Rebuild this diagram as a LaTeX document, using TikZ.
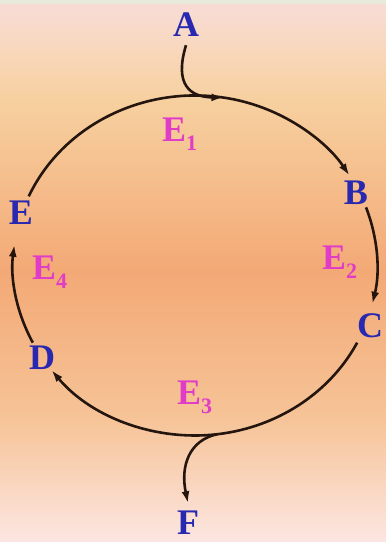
\documentclass[tikz,border=0pt]{standalone}
\usepackage{fontspec}
\setmainfont{Liberation Serif}
\usetikzlibrary{arrows.meta,calc}
\definecolor{lblue}{HTML}{2828B0}
\definecolor{lmag}{HTML}{E03CC8}
\definecolor{lline}{HTML}{24160F}
\definecolor{bgTop}{HTML}{F8DCD3}
\definecolor{bgA}{HTML}{F8D6B6}
\definecolor{bgB}{HTML}{F7D0A0}
\definecolor{bgC}{HTML}{F3A976}
\definecolor{bgD}{HTML}{F6C498}
\definecolor{bgBot}{HTML}{FCE6E2}
\definecolor{strip}{HTML}{E8EADB}
\pgfdeclareverticalshading{bgshade}{100bp}{color(0bp)=(bgBot); color(25bp)=(bgBot); color(36.25bp)=(bgD); color(50bp)=(bgC); color(65.8bp)=(bgB); color(69.5bp)=(bgA); color(74bp)=(bgTop); color(75bp)=(bgTop); color(100bp)=(bgTop)}
\tikzset{
  letter/.style={inner sep=0pt, anchor=base, text=lblue, font=\fontsize{36}{36}\selectfont\bfseries},
  elabel/.style={inner sep=0pt, anchor=base west, text=lmag, font=\fontsize{36}{36}\selectfont\bfseries},
  flow/.style={draw=lline, line width=2.6pt, -{Latex[length=12pt,width=8pt]}},
}
\newcommand{\esub}[1]{E\raisebox{-9pt}{\fontsize{22}{22}\selectfont #1}}
\begin{document}
\begin{tikzpicture}[x=1pt,y=1pt]
\useasboundingbox (0,0) rectangle (386,542);
\shade[shading=bgshade] (0,0) rectangle (386,542);
\fill[strip] (0,538) rectangle (386,542);
% nodes
\node[letter] (A) at (186,505) {A};
\node[letter] (B) at (356,337) {B};
\node[letter] (C) at (370,204) {C};
\node[letter] (D) at (42,172) {D};
\node[letter] (E) at (21,317) {E};
\node[letter] (F) at (188,7) {F};
\node[elabel] (e1) at (162,400) {\esub{1}};
\node[elabel] (e2) at (322,272) {\esub{2}};
\node[elabel] (e3) at (177,137) {\esub{3}};
\node[elabel] (e4) at (32,262) {\esub{4}};
% ellipse cycle
\coordinate (O) at (195,276.5);
\coordinate (eS) at ($(O)+(156:182 and 170)$);
\coordinate (bS) at ($(O)+(20:182 and 170)$);
\coordinate (cS) at ($(O)+(-27:182 and 170)$);
\coordinate (dS) at ($(O)+(207:182 and 170)$);
\coordinate (aIn) at ($(O)+(81:182 and 170)$);
\coordinate (fOut) at ($(O)+(-83:182 and 170)$);
\draw[flow] (eS) arc[start angle=156, end angle=32, x radius=182, y radius=170];
\draw[flow] (bS) arc[start angle=20, end angle=-13, x radius=182, y radius=170];
\draw[flow] (cS) arc[start angle=-27, end angle=-142, x radius=182, y radius=170];
\draw[flow] (dS) arc[start angle=207, end angle=173, x radius=182, y radius=170];
% inflow and outflow
\draw[flow] ([yshift=-8pt]A.south) .. controls (174,457) and (190,445) .. (aIn);
\draw[flow] (fOut) .. controls (190,102) and (180,77) .. ([yshift=8pt]F.north);
\end{tikzpicture}
\end{document}
